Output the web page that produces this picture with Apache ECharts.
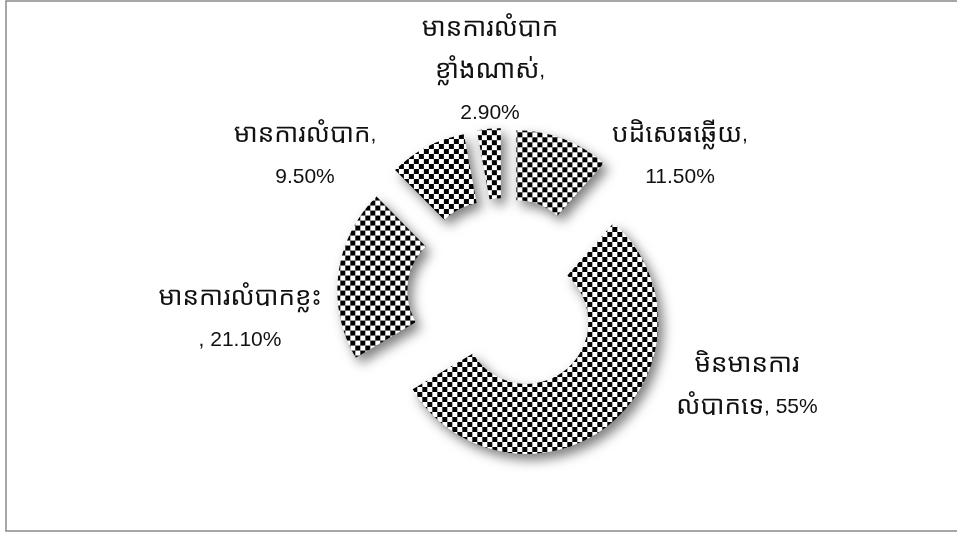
<!DOCTYPE html>
<html>
<head>
<meta charset="utf-8">
<script src="https://cdn.jsdelivr.net/npm/echarts@6/dist/echarts.min.js"></script>
<style>
html,body{margin:0;padding:0;background:#fff;}
#main{width:957px;height:533px;}
</style>
</head>
<body>
<div id="main"></div>
<script>
const categories = ['បដិសេធឆ្លើយ', 'មិនមានការលំបាកទេ', 'មានការលំបាកខ្លះ', 'មានការលំបាក', 'មានការលំបាកខ្លាំងណាស់'];
const values = [11.5, 55, 21.1, 9.5, 2.9];
const percentLabels = ['11.50%', '55%', '21.10%', '9.50%', '2.90%'];

// label text layout (rich text) and label anchor positions
const labelRich = [
  '{k|បដិសេធឆ្លើយ}{n|,}\n{n|' + percentLabels[0] + '}',
  '{k|មិនមានការ}\n{k|លំបាកទេ}{n|, ' + percentLabels[1] + '}',
  '{k|មានការលំបាកខ្លះ}\n{n|, ' + percentLabels[2] + '}',
  '{k|មានការលំបាក}{n|,}\n{n|' + percentLabels[3] + '}',
  '{k|មានការលំបាក}\n{k|ខ្លាំងណាស់}{n|,}\n{n|' + percentLabels[4] + '}'
];
const labelAnchors = [[680, 156], [747, 386], [240, 319], [305, 156], [490, 71]];

const pat = document.createElement('canvas');
pat.width = 10; pat.height = 10;
const pc = pat.getContext('2d');
pc.fillStyle = '#ffffff'; pc.fillRect(0, 0, 10, 10);
pc.fillStyle = '#000000'; pc.fillRect(0, 0, 5, 5); pc.fillRect(5, 5, 5, 5);

const chart = echarts.init(document.getElementById('main'), null, {renderer: 'canvas'});
const khFont = "'Khmer OS', 'Khmer OS System', 'Noto Sans Khmer', 'Noto Serif Khmer', sans-serif";
const latFont = "'Liberation Sans', Arial, Helvetica, sans-serif";
const rich = {
  k: {fontFamily: khFont, fontSize: 26, lineHeight: 42, fill: '#111'},
  n: {fontFamily: latFont, fontSize: 21, lineHeight: 42, fill: '#111'}
};

const graphics = [{
  type: 'rect',
  shape: {x: 6, y: 1, width: 980, height: 530},
  style: {fill: 'none', stroke: '#8a8a8a', lineWidth: 1.5},
  silent: true
}];
labelRich.forEach((t, i) => {
  graphics.push({
    type: 'text',
    x: labelAnchors[i][0],
    y: labelAnchors[i][1],
    silent: true,
    style: {
      text: t,
      rich: rich,
      align: 'center',
      verticalAlign: 'middle',
      textAlign: 'center',
      textVerticalAlign: 'middle',
      fill: '#111'
    }
  });
});

chart.setOption({
  animation: false,
  backgroundColor: '#ffffff',
  graphic: graphics,
  series: [{
    type: 'pie',
    center: [504, 295],
    radius: [62, 132],
    startAngle: 90,
    clockwise: true,
    selectedMode: 'multiple',
    selectedOffset: 35,
    emphasis: {disabled: true},
    itemStyle: {
      color: {image: pat, repeat: 'repeat'},
      shadowBlur: 12,
      shadowOffsetX: 5,
      shadowOffsetY: 6,
      shadowColor: 'rgba(0,0,0,0.5)'
    },
    label: {show: false},
    labelLine: {show: false},
    data: categories.map((c, i) => ({name: c, value: values[i], selected: true}))
  }]
});
</script>
</body>
</html>
